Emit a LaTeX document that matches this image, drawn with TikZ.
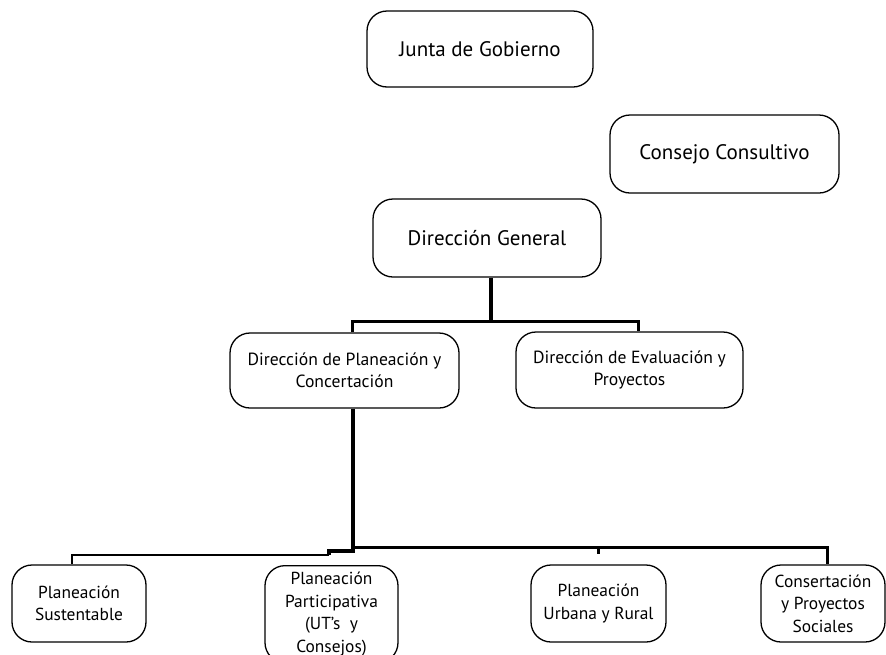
\documentclass[tikz,border=0pt]{standalone}
\usepackage{fontspec}
\setmainfont{PT Sans}
\begin{document}
\begin{tikzpicture}[x=1pt, y=-1pt,
  unit/.style={draw, rounded corners=20pt, line width=1.3pt, align=center, inner sep=2pt},
  big/.style={unit, font=\fontsize{21}{25}\selectfont},
  mid/.style={unit, font=\fontsize{17.6}{22}\selectfont},
  low/.style={unit, font=\fontsize{17.4}{22.5}\selectfont, minimum height=77pt},
  trunk/.style={line width=4pt},
  branch/.style={line width=3pt},
  twig/.style={line width=2.4pt}
]
  \useasboundingbox (0,0) rectangle (886,654);

  \node[big, minimum width=226pt, minimum height=76pt] (junta) at (480,49) {Junta de Gobierno};
  \node[big, minimum width=229pt, minimum height=78pt] (consejo) at (724.5,154) {Consejo Consultivo};
  \node[big, minimum width=228pt, minimum height=78pt] (general) at (487,238) {Dirección General};

  \node[mid, minimum width=229pt, minimum height=75pt] (planeacion) at (344.5,370.5) {Dirección de Planeación y\\Concertación};
  \node[mid, minimum width=227pt, minimum height=76pt] (evaluacion) at (629.5,370) {Dirección de Evaluación y\\Proyectos};

  \node[low, minimum width=134pt] (sustentable) at (79,603.5) {Planeación\\Sustentable};
  \node[low, minimum width=133pt, minimum height=97pt, anchor=north] (participativa) at (331.5,565) {Planeación\\Participativa\\(UT’s~~y\\Consejos)};
  \node[low, minimum width=135pt] (urbana) at (598.5,603.5) {Planeación\\Urbana y Rural};
  \node[low, minimum width=124pt] (social) at (823,603.5) {Consertación\\y Proyectos\\Sociales};

  % upper level
  \coordinate (top) at (491,321);
  \draw[trunk] ([xshift=4pt]general.south) -- (top);
  \draw[branch] ([xshift=7.5pt]planeacion.north) |- (top) -| ([xshift=8.5pt]evaluacion.north);

  % lower level
  \coordinate (hub) at (353,547);
  \coordinate (step) at (329,551);
  \draw[trunk] ([xshift=8.5pt]planeacion.south) -- (hub);
  \draw[branch] (hub) -| ([xshift=4pt]social.north);
  \draw[branch, shorten >=10pt] (hub -| urbana.north) -- (urbana.north);
  \draw[trunk, shorten >=10pt] (hub) -- (hub |- step) -| ([xshift=-2.5pt]participativa.north);
  \draw[twig] (step |- 0,555) -| ([xshift=-7pt]sustentable.north);
\end{tikzpicture}
\end{document}
